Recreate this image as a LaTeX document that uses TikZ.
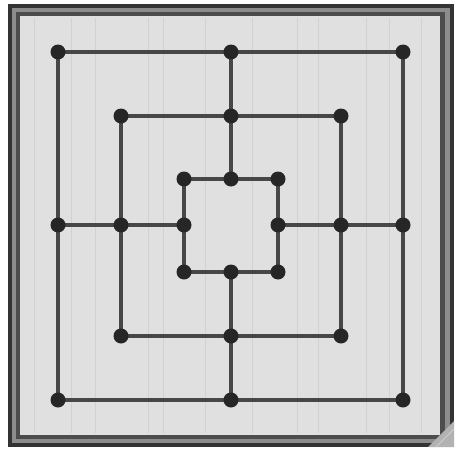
\documentclass[tikz,border=0pt]{standalone}
\begin{document}
\begin{tikzpicture}[x=1pt,y=-1pt,
  pt/.style={circle,inner sep=0pt,minimum size=15pt},
  board/.style={line width=4.5pt,draw=black!72},
  disc/.style={fill=black!85},
  ]
\useasboundingbox (0,0) rectangle (456,450);
\fill[white] (0,0) rectangle (456,450);
% frame
\fill[black!80] (8,4) rectangle (454,447);
\fill[black!45] (12,8) rectangle (450,443);
\fill[black!70] (16,12) rectangle (445,439);
\fill[black!12] (20,16) rectangle (440,435);
% bevel at bottom-right
\fill[black!30] (440,435) -- (454,421) -- (454,447) -- (428,447) -- cycle;
\draw[white!80!black,line width=1pt] (436,447) -- (454,429);
% faint wood streaks
\foreach \xx in {34,71,95,148,163,205,252,297,318,366,389,421}
  \draw[black!18,line width=0.6pt] (\xx,18) -- (\xx,433);
% nodes
\node[pt] (a1) at (58,52) {};
\node[pt] (a2) at (231,52) {};
\node[pt] (a3) at (403,52) {};
\node[pt] (a4) at (403,225) {};
\node[pt] (a5) at (403,400) {};
\node[pt] (a6) at (231,400) {};
\node[pt] (a7) at (58,400) {};
\node[pt] (a8) at (58,225) {};
\node[pt] (b1) at (121,116) {};
\node[pt] (b2) at (231,116) {};
\node[pt] (b3) at (341,116) {};
\node[pt] (b4) at (341,225) {};
\node[pt] (b5) at (341,336) {};
\node[pt] (b6) at (231,336) {};
\node[pt] (b7) at (121,336) {};
\node[pt] (b8) at (121,225) {};
\node[pt] (c1) at (184,179) {};
\node[pt] (c2) at (231,179) {};
\node[pt] (c3) at (278,179) {};
\node[pt] (c4) at (278,225) {};
\node[pt] (c5) at (278,272) {};
\node[pt] (c6) at (231,272) {};
\node[pt] (c7) at (184,272) {};
\node[pt] (c8) at (184,225) {};
% lines
\path[board] (a1.center) -- (a3.center) -- (a5.center) -- (a7.center) -- cycle;
\path[board] (b1.center) -- (b3.center) -- (b5.center) -- (b7.center) -- cycle;
\path[board] (c1.center) -- (c3.center) -- (c5.center) -- (c7.center) -- cycle;
\path[board] (a2.center) -- (c2.center);
\path[board] (c6.center) -- (a6.center);
\path[board] (a8.center) -- (c8.center);
\path[board] (c4.center) -- (a4.center);
% node discs on top of the lines
\foreach \n in {a1,a2,a3,a4,a5,a6,a7,a8,b1,b2,b3,b4,b5,b6,b7,b8,c1,c2,c3,c4,c5,c6,c7,c8}
  \fill[disc] (\n.center) circle (7.5pt);
\end{tikzpicture}
\end{document}
